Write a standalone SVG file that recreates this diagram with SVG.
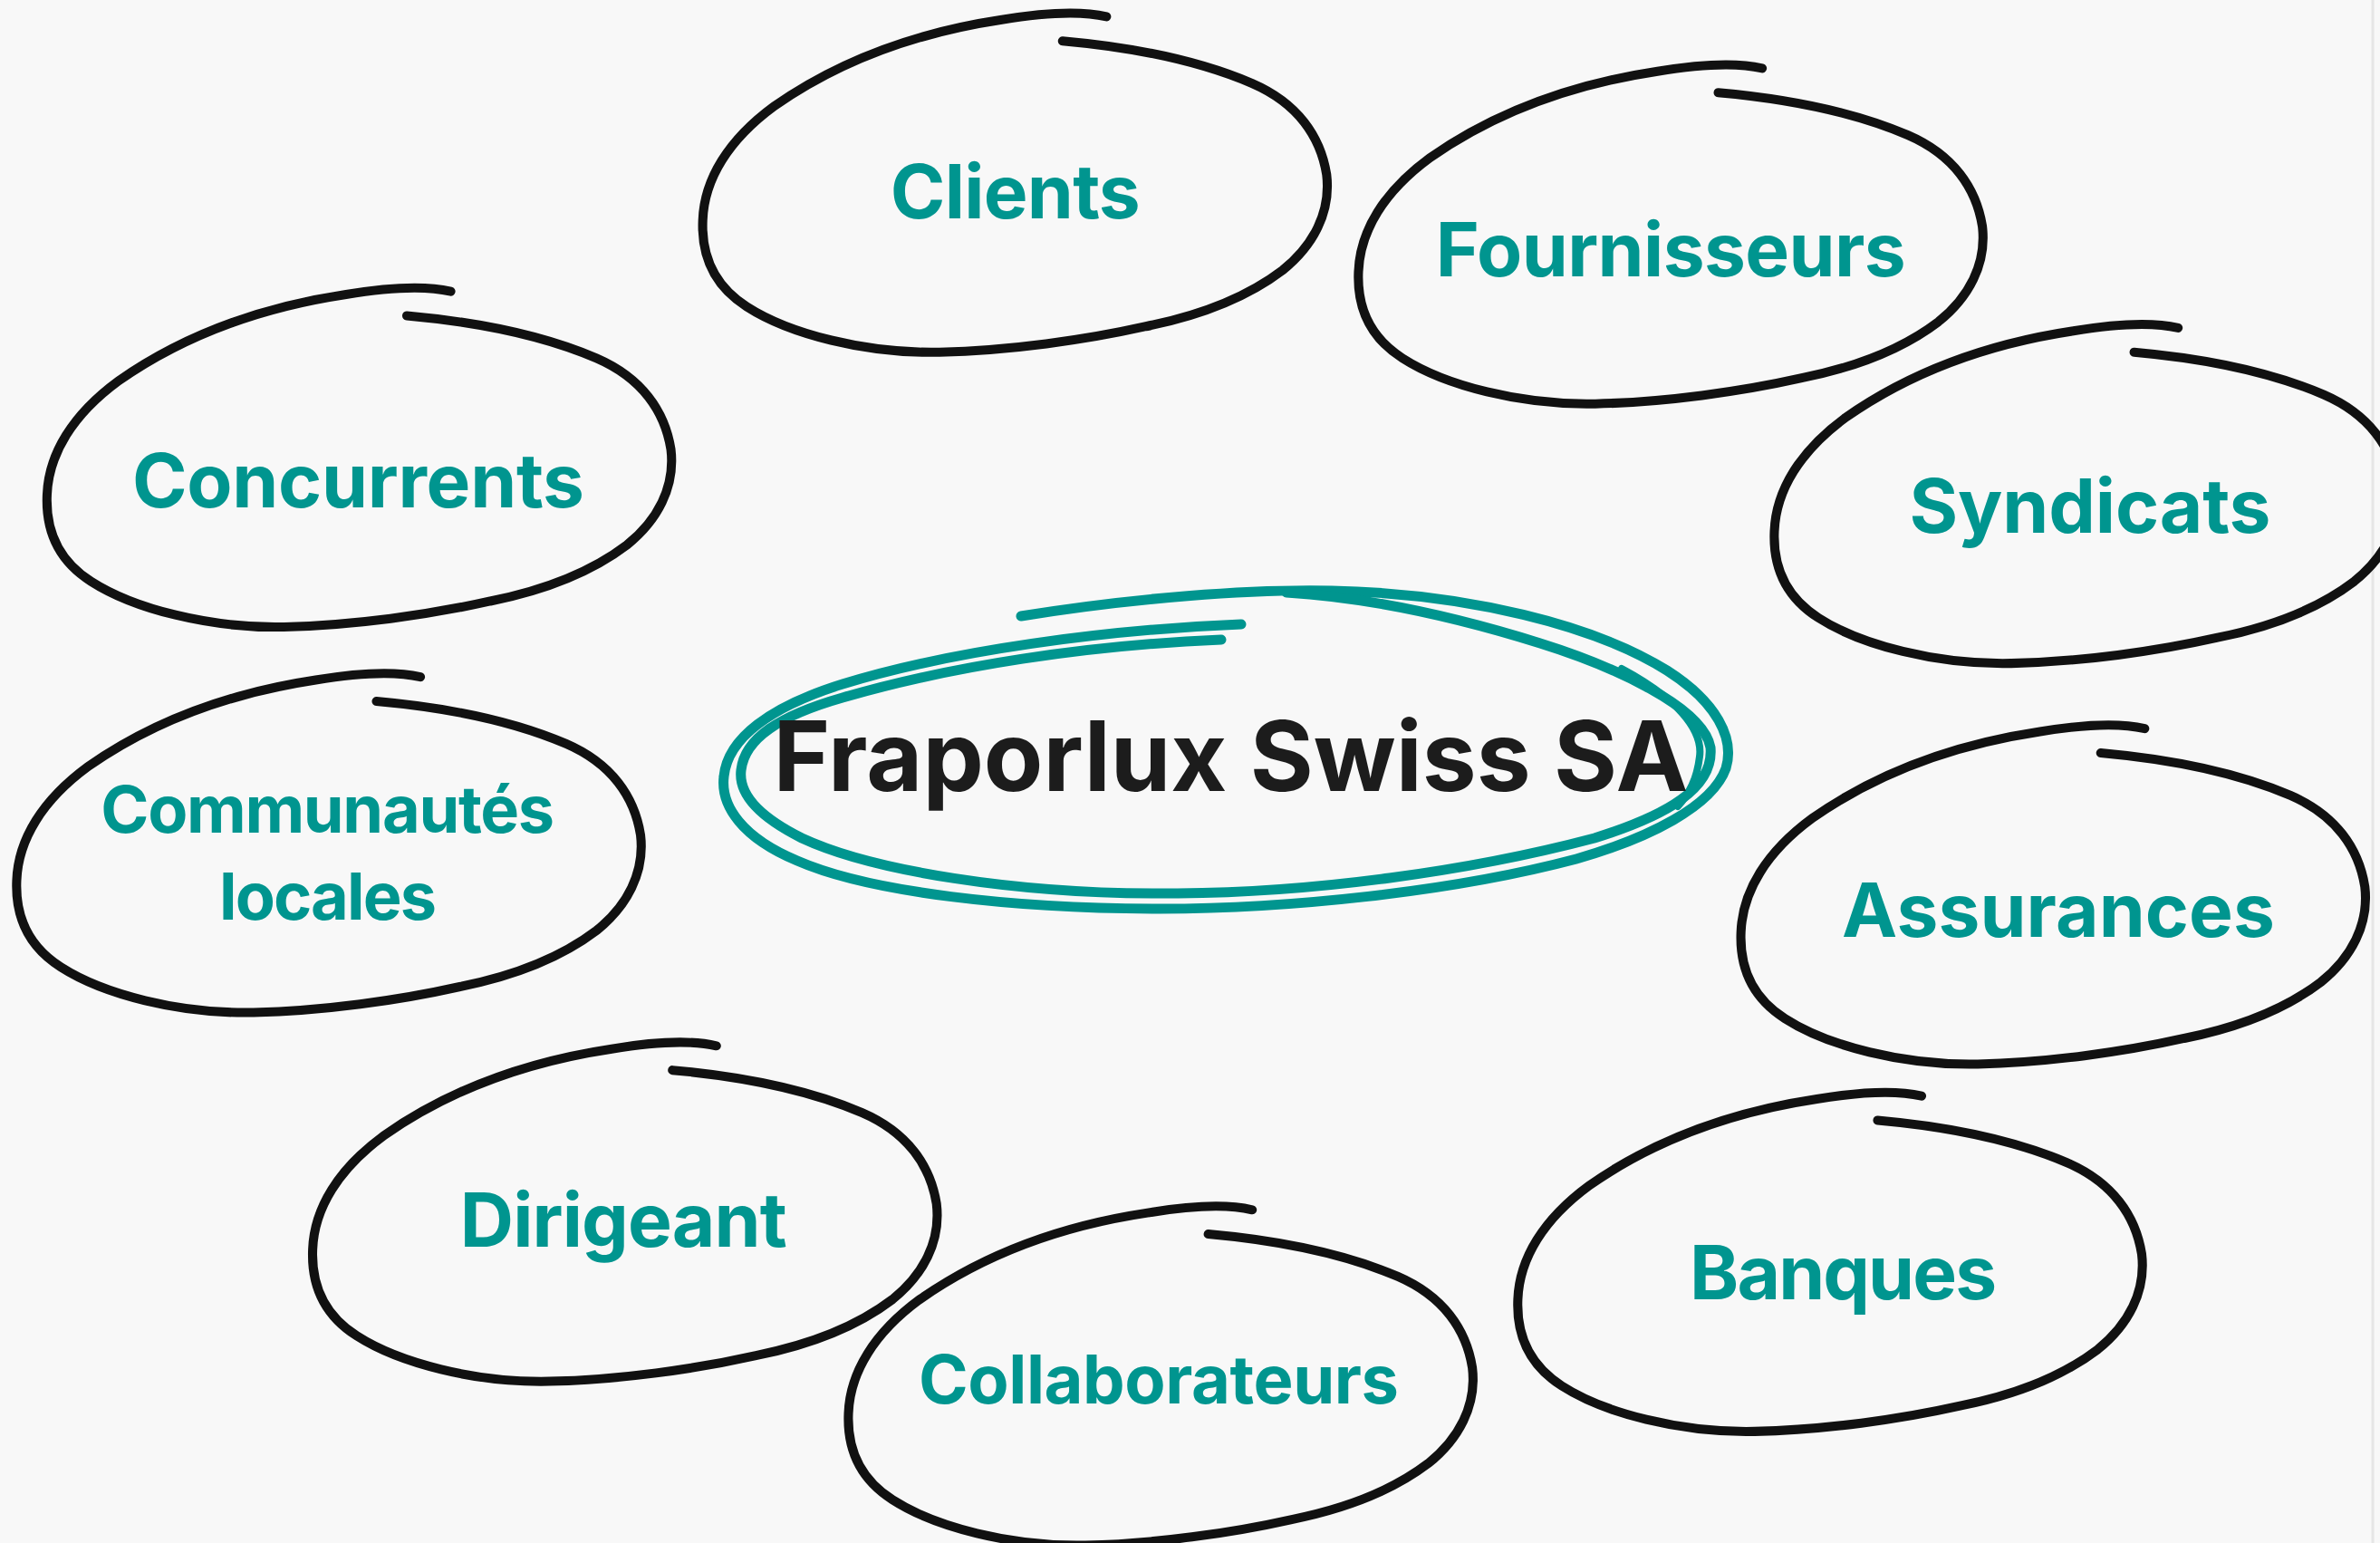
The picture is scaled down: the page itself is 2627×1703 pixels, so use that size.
<svg xmlns="http://www.w3.org/2000/svg" xmlns:xlink="http://www.w3.org/1999/xlink" width="2627" height="1703" viewBox="0 0 2627 1703">
<style>
.loop{fill:none;stroke:#111111;stroke-width:6;stroke-linecap:round;stroke-linejoin:round}
.lbl{font-family:Inter,"Noto Sans","Liberation Sans",sans-serif;font-weight:700;fill:#00958f;text-anchor:middle}
.title{font-family:Inter,"Noto Sans","Liberation Sans",sans-serif;font-weight:700;fill:#1c1c1c;text-anchor:middle}
.teal{fill:none;stroke:#00958f;stroke-width:11;stroke-linecap:round;stroke-linejoin:round}
</style>
<defs>
<path id="loop" d="M700,27 C745,31 790,40 825,55 C855,68 870,90 874,115 C877,140 865,162 845,178 C820,197 790,208 755,215 C715,224 665,231 619,232 C570,233 520,220 492,202 C470,188 462,168 463,145 C464,118 480,92 510,70 C550,42 600,22 660,13 C690,8 712,7 729,11"/>
</defs>
<rect x="0" y="0" width="2627" height="1703" fill="#f8f8f8"/>
<line x1="2619" y1="0" x2="2619" y2="1703" stroke="#e6e6e6" stroke-width="3"/>

<g id="node-center">
<path class="teal" d="M1127,680 C1250,660 1380,650 1470,652 C1620,655 1760,690 1840,740 C1895,775 1915,815 1905,848 C1890,890 1820,925 1740,948 C1600,985 1420,1003 1280,1003 C1120,1003 960,985 880,950 C820,925 795,890 799,857 C803,815 850,780 930,755 C1050,718 1220,695 1370,689"/>
<path class="teal" d="M1420,654 C1520,660 1620,685 1700,710 C1780,735 1880,780 1888,825 C1892,870 1840,900 1760,925 C1620,962 1450,985 1300,986 C1120,988 960,960 885,925 C835,900 815,875 818,850 C822,815 860,790 930,770 C1050,735 1200,712 1348,706"/>
<path class="teal" style="stroke-width:8" d="M1790,738 C1850,770 1880,805 1876,835 C1873,860 1865,875 1852,890"/>
<text class="title" x="1358.4" y="872.7" font-size="107" textLength="1010">Fraporlux Swiss SA</text>
</g>

<g id="node-clients">
<use xlink:href="#loop" class="loop" transform="scale(1.67538) translate(0,0)"/>
<text class="lbl" x="1120.8" y="241" font-size="82" textLength="276">Clients</text>
</g>

<g id="node-fournisseurs">
<use xlink:href="#loop" class="loop" transform="scale(1.67538) translate(432,34)"/>
<text class="lbl" x="1844.3" y="305" font-size="82" textLength="519">Fournisseurs</text>
</g>

<g id="node-concurrents">
<use xlink:href="#loop" class="loop" transform="scale(1.67538) translate(-432,181)"/>
<text class="lbl" x="395.5" y="560.3" font-size="82" textLength="499">Concurrents</text>
</g>

<g id="node-syndicats">
<use xlink:href="#loop" class="loop" transform="scale(1.67538) translate(706,205)"/>
<text class="lbl" x="2307" y="587.7" font-size="82" textLength="399">Syndicats</text>
</g>

<g id="node-communautes">
<use xlink:href="#loop" class="loop" transform="scale(1.67538) translate(-452,435)"/>
<text class="lbl" x="361.7" y="919.3" font-size="72" textLength="501">Communautés</text>
<text class="lbl" x="362" y="1015" font-size="72" textLength="240">locales</text>
</g>

<g id="node-assurances">
<use xlink:href="#loop" class="loop" transform="scale(1.67538) translate(684,469)"/>
<text class="lbl" x="2272" y="1033.9" font-size="82" textLength="478">Assurances</text>
</g>

<g id="node-dirigeant">
<use xlink:href="#loop" class="loop" transform="scale(1.67538) translate(-257,678)"/>
<text class="lbl" x="688.3" y="1376" font-size="82" textLength="361">Dirigeant</text>
</g>

<g id="node-banques">
<use xlink:href="#loop" class="loop" transform="scale(1.67538) translate(537,711)"/>
<text class="lbl" x="2034.6" y="1434.3" font-size="82" textLength="339">Banques</text>
</g>

<g id="node-collaborateurs">
<use xlink:href="#loop" class="loop" transform="scale(1.67538) translate(96,786)"/>
<text class="lbl" x="1279" y="1549" font-size="74" textLength="530">Collaborateurs</text>
</g>

<g id="connectors"></g>
</svg>
